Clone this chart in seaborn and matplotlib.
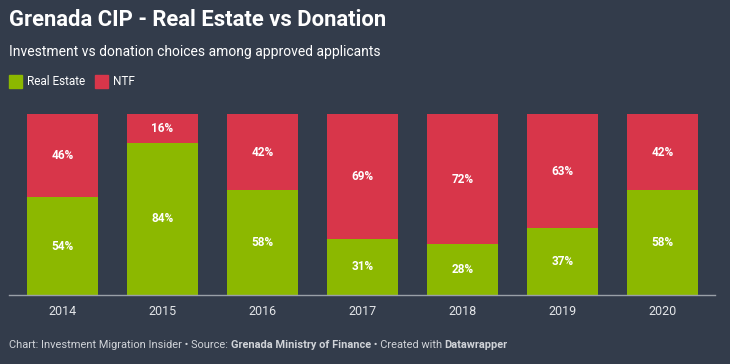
import matplotlib
matplotlib.use("Agg")
import matplotlib.pyplot as plt
import seaborn as sns
import pandas as pd
from matplotlib.patches import Rectangle

years = ["2014", "2015", "2016", "2017", "2018", "2019", "2020"]
real_estate = [54, 84, 58, 31, 28, 37, 58]
ntf = [46, 16, 42, 69, 72, 63, 42]

BG = "#333c4b"
GREEN = "#8cb800"
RED = "#d8364a"
W, H = 730, 364

sns.set_theme(style="white")
plt.rcParams["font.family"] = ["Roboto", "DejaVu Sans"]

df = pd.DataFrame({"year": years, "real_estate": real_estate, "ntf": ntf})
df["total"] = df["real_estate"] + df["ntf"]

fig = plt.figure(figsize=(W / 100, H / 100), dpi=100, facecolor=BG)

# axes in pixel coordinates: x 9..715, y 114..295
ax = fig.add_axes([9 / W, 1 - 295 / H, (715 - 9) / W, (295 - 114) / H])
ax.set_facecolor(BG)

sns.barplot(data=df, x="year", y="total", color=RED, width=0.71,
            saturation=1, ax=ax, linewidth=0)
sns.barplot(data=df, x="year", y="real_estate", color=GREEN, width=0.71,
            saturation=1, ax=ax, linewidth=0)

ax.set_xlim(-0.535, 6.525)
ax.set_ylim(0, 100)
ax.set_xlabel("")
ax.set_ylabel("")
ax.set_yticks([])
for s in ["top", "right", "left"]:
    ax.spines[s].set_visible(False)
ax.spines["bottom"].set_color("#9aa0a8")
ax.spines["bottom"].set_linewidth(1)
ax.tick_params(axis="x", length=0, pad=7, colors="#e4e6e9", labelsize=9)

# segment labels
for i, (re_v, n_v) in enumerate(zip(real_estate, ntf)):
    ax.text(i, re_v / 2, f"{re_v}%", ha="center", va="center",
            color="white", fontsize=8.5, fontweight="bold")
    ax.text(i, re_v + n_v / 2, f"{n_v}%", ha="center", va="center",
            color="white", fontsize=8.5, fontweight="bold")

# title, subtitle
fig.text(9 / W, 1 - 20 / H, "Grenada CIP - Real Estate vs Donation",
         color="white", fontsize=15.8, fontweight="bold", va="center")
fig.text(9 / W, 1 - 52 / H, "Investment vs donation choices among approved applicants",
         color="white", fontsize=10, va="center")

# legend
fig.patches.append(Rectangle((9 / W, 1 - 88 / H), 13 / W, 13 / H,
                             transform=fig.transFigure, color=GREEN))
fig.text(27 / W, 1 - 81.5 / H, "Real Estate", color="white", fontsize=8.5, va="center")
fig.patches.append(Rectangle((95 / W, 1 - 88 / H), 13 / W, 13 / H,
                             transform=fig.transFigure, color=RED))
fig.text(113 / W, 1 - 81.5 / H, "NTF", color="white", fontsize=8.5, va="center")

# footer
fy = 1 - 345 / H
parts = [("Chart: Investment Migration Insider \u2022 Source: ", "normal"),
         ("Grenada Ministry of Finance", "bold"),
         (" \u2022 Created with ", "normal"),
         ("Datawrapper", "bold")]
renderer = fig.canvas.get_renderer()
x = 9 / W
for txt, wt in parts:
    t = fig.text(x, fy, txt, color="#d0d3d8", fontsize=7.9, fontweight=wt, va="center")
    bb = t.get_window_extent(renderer=renderer)
    x += bb.width / W

fig.savefig("out.png", dpi=100, facecolor=BG)
